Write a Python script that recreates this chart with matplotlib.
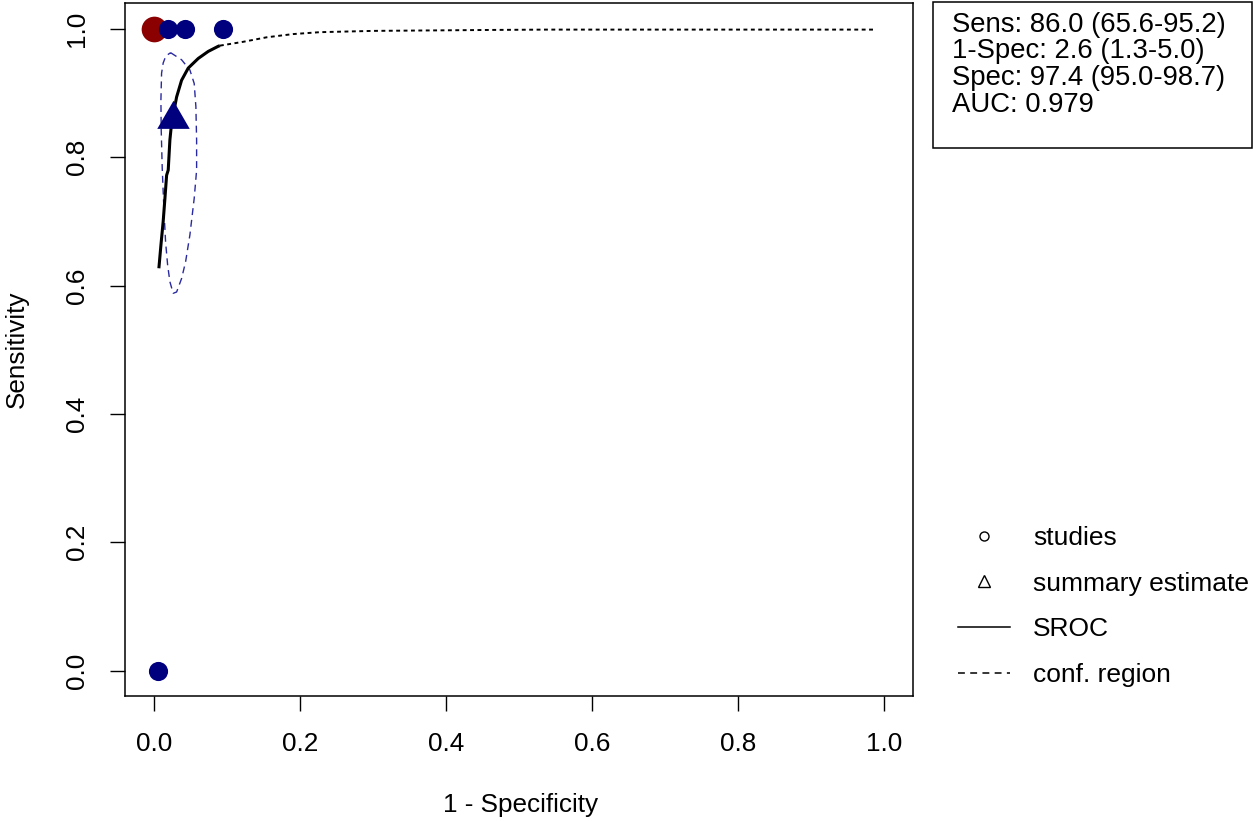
import matplotlib
matplotlib.use("Agg")
from matplotlib import pyplot as plt
from matplotlib.lines import Line2D
from matplotlib.patches import Rectangle
from matplotlib.path import Path

plt.rcParams['font.family'] = ['Liberation Sans', 'DejaVu Sans']

# studies (1 - specificity, sensitivity)
red_fpr = [0.0]
red_sens = [1.0]
blue_fpr = [0.019, 0.042, 0.094, 0.0055]
blue_sens = [1.0, 1.0, 1.0, 0.0]

# summary estimate
summ_fpr = 0.026
summ_sens = 0.86

# SROC curve, solid part (inside observed range)
sroc_fpr = [0.0064, 0.0092, 0.0123, 0.0147, 0.017, 0.0192, 0.0215, 0.0238,
            0.0307, 0.0375, 0.0466, 0.0603, 0.074, 0.0877, 0.090]
sroc_sens = [0.627, 0.663, 0.700, 0.736, 0.772, 0.780, 0.827, 0.853,
             0.894, 0.920, 0.939, 0.954, 0.965, 0.973, 0.974]

# SROC curve, dotted extension
ext_fpr = [0.090, 0.122, 0.154, 0.190, 0.227, 0.30, 0.464, 0.538, 0.987]
ext_sens = [0.974, 0.980, 0.987, 0.992, 0.995, 0.997, 0.9985, 0.999, 0.999]

# confidence region
ell_fpr = [0.0225, 0.0375, 0.0489, 0.0548, 0.0571, 0.0581, 0.0581, 0.0548,
           0.0489, 0.0430, 0.0375, 0.0307, 0.0260, 0.0215, 0.0184, 0.0156,
           0.0137, 0.0123, 0.0110, 0.0096, 0.0092, 0.0101, 0.0123, 0.016, 0.0225]
ell_sens = [0.963, 0.952, 0.936, 0.915, 0.879, 0.827, 0.780, 0.736,
            0.679, 0.637, 0.611, 0.590, 0.588, 0.606, 0.632, 0.668,
            0.710, 0.746, 0.783, 0.843, 0.889, 0.931, 0.947, 0.958, 0.963]

stats = ["Sens: 86.0 (65.6-95.2)",
         "1-Spec: 2.6 (1.3-5.0)",
         "Spec: 97.4 (95.0-98.7)",
         "AUC: 0.979"]
ticks = [0.0, 0.2, 0.4, 0.6, 0.8, 1.0]

navy = '#00007F'
W, H = 1253, 821

fig = plt.figure(figsize=(W / 100, H / 100), dpi=100)
ax = fig.add_axes([125 / W, 1 - 696.2 / H, 788.4 / W, 692.9 / H])

# R-like triangle (centroid at the point)
tri = Path([(0, 1), (-0.866, -0.5), (0.866, -0.5), (0, 1)],
           [Path.MOVETO, Path.LINETO, Path.LINETO, Path.CLOSEPOLY])

ax.plot(ell_fpr, ell_sens, color='#2a2aa0', lw=1.0, dashes=(5, 3.5))
ax.plot(ext_fpr, ext_sens, color='black', lw=1.4, dashes=(2.0, 1.8))
ax.plot(sroc_fpr, sroc_sens, color='black', lw=2.2, solid_capstyle='butt')
ax.plot(red_fpr, red_sens, 'o', color='#8B0000', ms=18.5, mew=0)
ax.plot(blue_fpr, blue_sens, 'o', color=navy, ms=13.8, mew=0)
ax.plot([summ_fpr], [summ_sens], marker=tri, color=navy, ms=27, mew=0, ls='none')

ax.set_xlim(-0.04, 1.04)
ax.set_ylim(-0.04, 1.04)
ax.set_xticks(ticks)
ax.set_yticks(ticks)
ax.set_xticklabels([f"{t:.1f}" for t in ticks])
ax.set_yticklabels([f"{t:.1f}" for t in ticks], rotation=90, va='center')
ax.tick_params(length=10.8, width=1, pad=15, labelsize=18.8, direction='out')
for s in ax.spines.values():
    s.set_linewidth(1.1)

fig.text(521 / W, 1 - 805 / H, "1 - Specificity", ha='center', va='center', fontsize=18.8)
fig.text(17 / W, 1 - 349 / H, "Sensitivity", ha='center', va='center',
         rotation=90, fontsize=18.8)

# statistics box
fig.patches.append(Rectangle((933 / W, 1 - 148 / H), 319 / W, 146 / H,
                             transform=fig.transFigure, fill=False,
                             edgecolor='black', lw=1.1))
for i, line in enumerate(stats):
    fig.text(951.5 / W, 1 - (32 + 26.5 * i) / H, line, ha='left', va='baseline',
             fontsize=19.8)

# legend
handles = [Line2D([], [], marker='o', mfc='none', mec='black', ls='none', ms=6.5, mew=1),
           Line2D([], [], marker='^', mfc='none', mec='black', ls='none', ms=9, mew=1),
           Line2D([], [], color='black', lw=1.1),
           Line2D([], [], color='black', lw=1.1, dashes=(4.5, 3.5))]
labels = ["studies", "summary estimate", "SROC", "conf. region"]
fig.legend(handles, labels, loc='upper left', bbox_to_anchor=(958 / W, 1 - 526 / H),
           frameon=False, fontsize=19, handlelength=1.98, handletextpad=0.86,
           labelspacing=0.82, borderpad=0, borderaxespad=0)

fig.savefig("out.png", dpi=100)
